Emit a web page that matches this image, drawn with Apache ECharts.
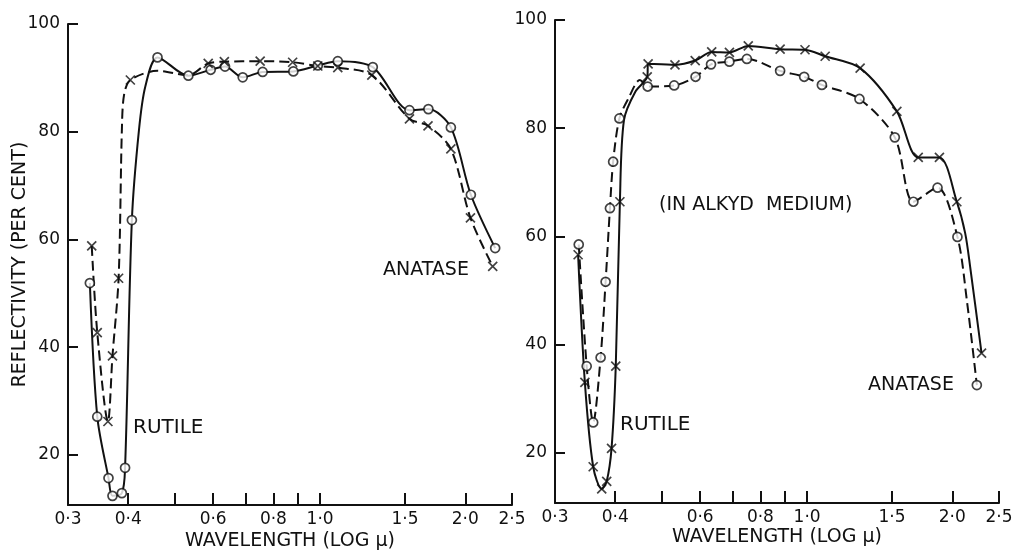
<!DOCTYPE html>
<html><head><meta charset="utf-8">
<script src="https://cdn.jsdelivr.net/npm/echarts@6/dist/echarts.min.js"></script>
<style>html,body{margin:0;padding:0;background:#fff}#c{width:1019px;height:551px}</style>
</head><body><div id="c"></div>
<script>
// ---- Tick values ----
const xLabelValues = [0.3, 0.4, 0.6, 0.8, 1.0, 1.5, 2.0, 2.5];
const xTickValues = [0.4, 0.5, 0.6, 0.7, 0.8, 0.9, 1.0, 1.5, 2.0, 2.5];
const yTickValues = [20, 40, 60, 80, 100];

// ---- Left panel: rutile (solid, circles) ----
const leftRutileX = [0.333, 0.345, 0.364, 0.371, 0.388, 0.394, 0.407, 0.460, 0.533, 0.593, 0.635, 0.691, 0.760, 0.880, 0.989, 1.088, 1.286, 1.532, 1.677, 1.867, 2.054, 2.307];
const leftRutileY = [51.9, 27.1, 15.7, 12.4, 12.9, 17.6, 63.6, 93.8, 90.4, 91.5, 92.1, 90.1, 91.1, 91.2, 92.3, 93.1, 92.0, 84.0, 84.2, 80.8, 68.3, 58.4];
const leftRutileCurveX = [0.421, 0.434];
const leftRutileCurveY = [80.3, 88.4];

// ---- Left panel: anatase (dashed, crosses) ----
const leftAnataseX = [0.336, 0.345, 0.363, 0.371, 0.382, 0.404, 0.586, 0.633, 0.751, 0.877, 0.989, 1.088, 1.280, 1.532, 1.674, 1.867, 2.050, 2.280];
const leftAnataseY = [58.8, 42.7, 26.2, 38.4, 52.8, 89.6, 92.7, 93.0, 93.1, 92.9, 92.2, 91.9, 90.5, 82.4, 81.1, 76.8, 64.0, 55.0];
const leftAnataseCurveX = [0.388, 0.392, 0.460, 0.533];
const leftAnataseCurveY = [80.3, 86.8, 91.3, 90.5];

// ---- Right panel (in alkyd medium): rutile (solid, crosses) ----
const rightRutileX = [0.335, 0.346, 0.360, 0.375, 0.384, 0.393, 0.401, 0.409, 0.466, 0.468, 0.532, 0.586, 0.634, 0.690, 0.755, 0.879, 0.990, 1.090, 1.288, 1.535, 1.700, 1.881, 2.044, 2.300];
const rightRutileY = [56.6, 33.0, 17.4, 13.3, 14.7, 20.8, 36.0, 66.4, 89.5, 91.9, 91.7, 92.5, 94.1, 94.0, 95.2, 94.6, 94.5, 93.3, 91.1, 83.1, 74.6, 74.6, 66.4, 38.4];
const rightRutileCurveX = [0.417, 0.440, 2.127, 2.178];
const rightRutileCurveY = [81.5, 86.7, 60.6, 54.4];

// ---- Right panel: anatase (dashed, circles) ----
const rightAnataseX = [0.336, 0.349, 0.360, 0.373, 0.382, 0.390, 0.396, 0.408, 0.467, 0.530, 0.587, 0.632, 0.690, 0.750, 0.879, 0.986, 1.073, 1.284, 1.520, 1.661, 1.864, 2.050, 2.249];
const rightAnataseY = [58.5, 36.0, 25.6, 37.6, 51.6, 65.2, 73.8, 81.8, 87.7, 87.9, 89.5, 91.8, 92.3, 92.8, 90.6, 89.5, 88.0, 85.4, 78.3, 66.4, 69.0, 59.9, 32.5];
const rightAnataseCurveX = [0.426, 0.450, 2.144];
const rightAnataseCurveY = [85.5, 88.9, 48.2];

// ---- helpers ----
const INK = '#111';
const FONT = 'DejaVu Sans';
const CROSS = 'path://M0,0L10,10M10,0L0,10';

function pairs(xs, ys) { return xs.map((x, i) => [x, ys[i]]); }
function curve(xs, ys, gx, gy) {
  const pts = pairs(xs, ys).concat(pairs(gx, gy));
  return pts.map((p, i) => ({p, i}))
    .sort((a, b) => (a.p[0] - b.p[0]) || (a.i - b.i))
    .map(o => o.p);
}
function fmtX(v) { return (Math.round(v * 10) / 10).toFixed(1).replace('.', '·'); }

function xAxisFor(gi, nameGap) {
  return {
    type: 'log', logBase: 10, gridIndex: gi, min: 0.3, max: 2.5,
    name: 'WAVELENGTH (LOG μ)', nameLocation: 'middle', nameGap: nameGap, nameMoveOverlap: false,
    nameTextStyle: {fontFamily: FONT, fontSize: 19, color: INK},
    axisLine: {show: true, onZero: false, lineStyle: {color: INK, width: 2}},
    axisTick: {show: true, inside: true, length: 12, customValues: xTickValues, lineStyle: {color: INK, width: 2}},
    axisLabel: {show: true, customValues: xLabelValues, formatter: fmtX, margin: 6, fontFamily: FONT, fontSize: 17, color: INK},
    splitLine: {show: false}, minorTick: {show: false}, minorSplitLine: {show: false}
  };
}
function yAxisFor(gi, withName) {
  const a = {
    type: 'value', gridIndex: gi, min: 10.7, max: 100,
    axisLine: {show: true, onZero: false, lineStyle: {color: INK, width: 2}},
    axisTick: {show: true, inside: true, length: 10, customValues: yTickValues, lineStyle: {color: INK, width: 2}},
    axisLabel: {show: true, customValues: yTickValues, margin: 8, fontFamily: FONT, fontSize: 17, color: INK},
    splitLine: {show: false}
  };
  if (withName) {
    a.name = 'REFLECTIVITY (PER CENT)';
    a.nameLocation = 'middle';
    a.nameGap = 38;
    a.nameMoveOverlap = false;
    a.nameTextStyle = {fontFamily: FONT, fontSize: 19, color: INK};
  }
  return a;
}
function lineSeries(gi, data, dashed) {
  return {
    type: 'line', xAxisIndex: gi, yAxisIndex: gi, data: data,
    smooth: 0.3, symbol: 'none', z: 2,
    lineStyle: {color: INK, width: 2, type: dashed ? [10, 5] : 'solid'}
  };
}
function markSeries(gi, data, cross) {
  return {
    type: 'scatter', xAxisIndex: gi, yAxisIndex: gi, data: data, z: 3,
    symbol: cross ? CROSS : 'circle', symbolSize: 9,
    itemStyle: cross
      ? {color: 'transparent', borderColor: INK, borderWidth: 1.7}
      : {color: '#fff', borderColor: INK, borderWidth: 1.7}
  };
}
function txt(x, y, s, size) {
  return {type: 'text', left: x, top: y - size * 0.6,
    style: {text: s, fontFamily: FONT, fontSize: size, fill: INK}};
}

const chart = echarts.init(document.getElementById('c'), null, {renderer: 'canvas'});
chart.setOption({
  backgroundColor: '#fff',
  animation: false,
  grid: [
    {left: 68, top: 24, width: 444, height: 481, outerBoundsMode: 'none', containLabel: false},
    {left: 555, top: 20, width: 444, height: 483, outerBoundsMode: 'none', containLabel: false}
  ],
  xAxis: [xAxisFor(0, 27), xAxisFor(1, 25)],
  yAxis: [yAxisFor(0, true), yAxisFor(1, false)],
  series: [
    lineSeries(0, curve(leftRutileX, leftRutileY, leftRutileCurveX, leftRutileCurveY), false),
    lineSeries(0, curve(leftAnataseX, leftAnataseY, leftAnataseCurveX, leftAnataseCurveY), true),
    lineSeries(1, curve(rightRutileX, rightRutileY, rightRutileCurveX, rightRutileCurveY), false),
    lineSeries(1, curve(rightAnataseX, rightAnataseY, rightAnataseCurveX, rightAnataseCurveY), true),
    markSeries(0, pairs(leftRutileX, leftRutileY), false),
    markSeries(0, pairs(leftAnataseX, leftAnataseY), true),
    markSeries(1, pairs(rightRutileX, rightRutileY), true),
    markSeries(1, pairs(rightAnataseX, rightAnataseY), false)
  ],
  graphic: [
    txt(133, 430, 'RUTILE', 20),
    txt(383, 272, 'ANATASE', 19),
    txt(659, 207, '(IN ALKYD  MEDIUM)', 19),
    txt(620, 427, 'RUTILE', 20),
    txt(868, 387, 'ANATASE', 19)
  ]
});
</script></body></html>
